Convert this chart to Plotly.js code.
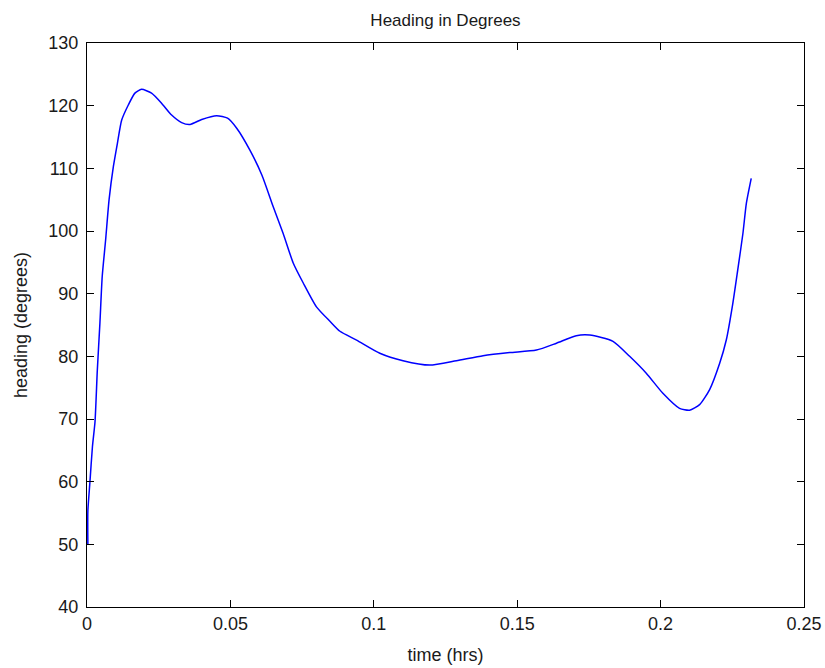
<!DOCTYPE html>
<html>
<head>
<meta charset="utf-8">
<script src="https://cdn.plot.ly/plotly-3.0.1.min.js"></script>
<style>html,body{margin:0;padding:0;background:#fff;}#chart{width:825px;height:668px;}</style>
</head>
<body>
<div id="chart"></div>
<script>
const timeHrs = [0.0003, 0.0003, 0.0010, 0.0019, 0.0028, 0.0036, 0.0045, 0.0053, 0.0065, 0.0077, 0.0092, 0.0106, 0.0121, 0.0144, 0.0167, 0.0190, 0.0225, 0.0260, 0.0295, 0.0330, 0.0359, 0.0400, 0.0452, 0.0490, 0.0522, 0.0568, 0.0610, 0.0649, 0.0684, 0.0719, 0.0754, 0.0800, 0.0847, 0.0882, 0.0940, 0.1021, 0.1102, 0.1195, 0.1288, 0.1381, 0.1474, 0.1567, 0.1637, 0.1706, 0.1753, 0.1834, 0.1892, 0.1950, 0.2008, 0.2066, 0.2101, 0.2136, 0.2171, 0.2206, 0.2229, 0.2252, 0.2269, 0.2287, 0.2299, 0.2316];
const headingDeg = [50.0, 55.3, 59.8, 65.6, 69.6, 77.8, 85.3, 92.7, 98.6, 105.0, 110.3, 114.0, 117.7, 120.1, 122.0, 122.6, 122.0, 120.4, 118.5, 117.3, 117.0, 117.8, 118.4, 118.0, 116.4, 112.9, 108.9, 103.9, 99.6, 94.9, 91.7, 87.9, 85.6, 84.0, 82.6, 80.5, 79.3, 78.6, 79.3, 80.1, 80.6, 81.0, 82.1, 83.3, 83.4, 82.4, 80.0, 77.3, 74.1, 71.7, 71.4, 72.3, 74.7, 78.9, 82.6, 88.5, 93.8, 99.6, 104.4, 108.4];
const xTicks = [0, 0.05, 0.1, 0.15, 0.2, 0.25];
const xTickText = ['0', '0.05', '0.1', '0.15', '0.2', '0.25'];
const yTicks = [40, 50, 60, 70, 80, 90, 100, 110, 120, 130];

const font = {family: 'Liberation Sans, Arial, sans-serif', size: 18, color: '#1a1a1a'};
const axisCommon = {
  showgrid: false, zeroline: false, showline: true, linecolor: '#000', linewidth: 1,
  mirror: 'allticks', ticks: 'inside', ticklen: 7, tickcolor: '#000', tickwidth: 1,
  tickfont: font
};
Plotly.newPlot('chart', [{
  x: timeHrs, y: headingDeg, type: 'scatter', mode: 'lines',
  line: {color: '#0000ff', width: 1.5, shape: 'spline', smoothing: 0.6}
}], {
  width: 825, height: 668,
  margin: {l: 87, r: 21, t: 43, b: 61},
  paper_bgcolor: '#fff', plot_bgcolor: '#fff',
  showlegend: false,
  font: font,
  title: {text: 'Heading in Degrees', font: {family: font.family, size: 17, color: '#1a1a1a'}, x: 0.5, xanchor: 'center', y: 0.97, yanchor: 'middle', xref: 'paper'},
  xaxis: Object.assign({}, axisCommon, {range: [0, 0.25], tickvals: xTicks, ticktext: xTickText,
    title: {text: 'time (hrs)', font: font, standoff: 15}}),
  yaxis: Object.assign({}, axisCommon, {range: [40, 130], tickvals: yTicks,
    ticklabelstandoff: 4,
    title: {text: 'heading (degrees)', font: font, standoff: 16}})
}, {displayModeBar: false, staticPlot: true});
</script>
</body>
</html>
